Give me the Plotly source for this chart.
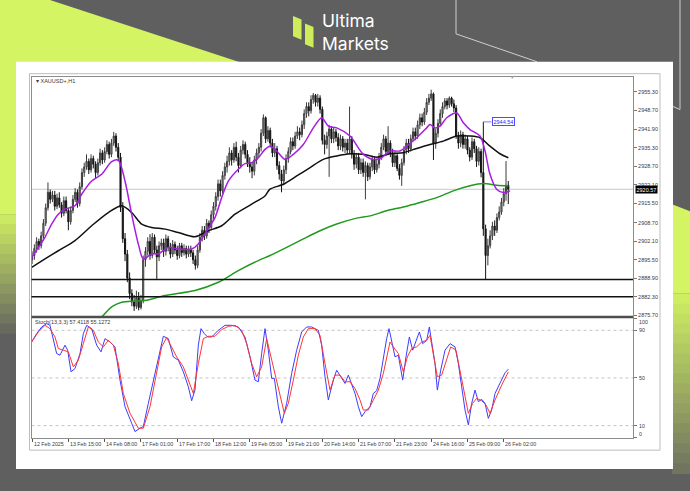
import plotly.graph_objects as go

W, H = 690, 491


def px(x):
    return x / W


def py(y):
    return 1 - y / H


# ---------------- data ----------------
symbol_label = "\u25be XAUUSD+,H1"
stoch_label = "Stoch(13,3,3) 57.4118 55.1272"

tick_idx = [0, 16, 32, 48, 64, 80, 96, 112, 128, 144, 160, 176, 192, 208]
tick_labels = ["12 Feb 2025", "13 Feb 15:00", "14 Feb 08:00", "17 Feb 01:00", "17 Feb 17:00",
               "18 Feb 12:00", "19 Feb 05:00", "19 Feb 21:00", "20 Feb 14:00", "21 Feb 07:00",
               "21 Feb 23:00", "24 Feb 16:00", "25 Feb 09:00", "26 Feb 02:00"]

price_ticks = [2955.30, 2948.70, 2941.90, 2935.30, 2928.70, 2922.10, 2915.50,
               2908.70, 2902.10, 2895.50, 2888.90, 2882.30, 2875.70]
stoch_ticks = [100, 90, 50, 10, 0]
stoch_levels = [90, 50, 10]

support_levels = [2888.5, 2882.3]
last_price = 2920.57
marked_high = 2944.54
marked_high_bar = 199

bar_index = list(range(211))

open_ = [
    2895.5, 2897.0, 2899.5, 2902.0, 2900.5, 2904.0, 2908.5, 2914.0, 2919.5, 2917.0,
    2918.5, 2914.5, 2917.5, 2915.0, 2912.0, 2916.5, 2913.0, 2909.0, 2913.0, 2917.0,
    2919.5, 2915.5, 2921.5, 2926.5, 2928.5, 2930.5, 2927.5, 2931.5, 2929.5, 2926.5,
    2930.0, 2933.5, 2931.0, 2934.0, 2936.5, 2933.0, 2937.0, 2939.5, 2935.5, 2932.0,
    2914.0, 2903.0, 2897.5, 2889.0, 2883.5, 2880.5, 2879.0, 2882.0, 2878.5, 2881.0,
    2895.5, 2898.5, 2902.0, 2897.0, 2903.5, 2899.0, 2896.5, 2900.5, 2901.5, 2898.5,
    2903.0, 2900.0, 2897.5, 2901.0, 2899.0, 2897.0, 2900.5, 2898.0, 2899.5, 2897.5,
    2899.0, 2898.0, 2895.5, 2893.5, 2899.0, 2903.5, 2906.0, 2904.0, 2908.5, 2907.0,
    2911.5, 2914.5, 2918.0, 2922.5, 2920.0, 2925.5, 2928.5, 2930.5, 2933.5, 2931.0,
    2935.5, 2932.0, 2929.0, 2934.5, 2936.5, 2933.0, 2930.0, 2928.5, 2927.0, 2931.0,
    2933.5, 2935.5, 2940.5, 2946.0, 2938.5, 2941.5, 2937.0, 2933.5, 2935.0, 2929.0,
    2926.0, 2923.5, 2927.5, 2931.5, 2934.0, 2937.5, 2936.0, 2939.5, 2941.0, 2940.0,
    2943.5, 2947.5, 2950.0, 2948.5, 2952.5, 2954.0, 2951.5, 2953.0, 2949.0, 2938.0,
    2936.5, 2939.5, 2942.0, 2938.5, 2941.0, 2939.0, 2936.0, 2938.5, 2935.5, 2937.0,
    2934.5, 2938.5, 2933.0, 2929.5, 2932.0, 2927.5, 2930.0, 2926.5, 2929.0, 2925.0,
    2928.5, 2931.0, 2927.5, 2929.5, 2932.0, 2935.5, 2938.5, 2934.0, 2937.0, 2933.5,
    2930.0, 2932.5, 2928.0, 2925.5, 2930.0, 2934.5, 2937.0, 2935.0, 2938.5, 2941.0,
    2939.5, 2943.5, 2946.0, 2944.5, 2948.0, 2951.5, 2953.0, 2954.5, 2937.0, 2940.5,
    2944.0, 2947.5, 2950.0, 2952.0, 2950.5, 2953.0, 2951.0, 2949.5, 2939.5, 2937.0,
    2940.0, 2936.5, 2938.5, 2934.5, 2932.0, 2937.5, 2935.0, 2930.5, 2934.0, 2926.5,
    2906.5, 2897.0, 2900.5, 2904.0, 2907.5, 2906.0, 2910.5, 2912.5, 2916.0, 2919.0, 2922.0,
]
high = [
    2898.5, 2901.0, 2903.5, 2903.0, 2905.5, 2910.0, 2915.5, 2923.0, 2920.5, 2920.0,
    2920.0, 2919.0, 2919.5, 2916.0, 2918.0, 2918.0, 2914.0, 2914.5, 2918.5, 2921.0,
    2920.5, 2923.0, 2928.0, 2930.0, 2933.0, 2931.5, 2933.0, 2932.5, 2930.5, 2931.5,
    2935.0, 2934.5, 2935.5, 2938.0, 2937.5, 2938.5, 2941.0, 2940.5, 2937.0, 2933.5,
    2916.0, 2905.0, 2899.0, 2891.0, 2885.0, 2883.0, 2884.5, 2884.0, 2883.0, 2897.0,
    2900.0, 2903.5, 2904.6, 2905.0, 2904.5, 2900.5, 2902.0, 2903.0, 2903.0, 2904.5,
    2904.0, 2901.5, 2902.5, 2902.0, 2900.5, 2901.5, 2901.5, 2901.0, 2900.5, 2900.5,
    2900.5, 2899.0, 2897.0, 2900.5, 2905.0, 2907.5, 2907.5, 2910.0, 2909.5, 2913.0,
    2916.0, 2919.5, 2924.0, 2924.0, 2927.0, 2930.0, 2932.5, 2935.5, 2934.5, 2937.0,
    2937.5, 2933.5, 2936.0, 2938.0, 2937.5, 2934.5, 2932.0, 2930.0, 2932.5, 2935.0,
    2937.0, 2942.0, 2947.2, 2946.5, 2943.0, 2942.5, 2938.5, 2937.0, 2936.0, 2930.5,
    2927.5, 2929.0, 2933.0, 2935.5, 2939.0, 2939.0, 2941.0, 2943.0, 2942.5, 2945.0,
    2949.0, 2951.5, 2951.5, 2954.0, 2954.8, 2954.5, 2954.5, 2954.0, 2950.0, 2940.0,
    2941.0, 2943.5, 2943.0, 2942.5, 2942.0, 2940.5, 2940.0, 2939.5, 2938.5, 2938.5,
    2950.0, 2939.5, 2934.5, 2933.5, 2933.5, 2931.5, 2931.5, 2930.5, 2930.0, 2930.0,
    2932.5, 2932.0, 2931.0, 2933.5, 2937.0, 2940.0, 2939.5, 2943.0, 2938.0, 2935.0,
    2934.0, 2933.5, 2929.5, 2931.5, 2936.0, 2938.5, 2938.5, 2940.0, 2942.5, 2942.5,
    2945.0, 2947.5, 2947.5, 2949.5, 2953.0, 2954.5, 2956.0, 2955.0, 2942.0, 2945.5,
    2949.0, 2951.5, 2953.0, 2953.0, 2953.6, 2953.5, 2952.5, 2950.5, 2941.0, 2941.5,
    2941.0, 2940.0, 2939.5, 2935.5, 2939.0, 2938.5, 2936.0, 2935.5, 2935.0, 2944.54,
    2908.0, 2903.0, 2906.0, 2909.0, 2909.5, 2912.0, 2914.5, 2917.5, 2921.0, 2930.6, 2923.5,
]
low = [
    2894.0, 2895.5, 2898.0, 2899.0, 2899.5, 2903.0, 2907.5, 2913.0, 2915.5, 2916.0,
    2913.0, 2913.5, 2914.0, 2910.5, 2911.0, 2912.0, 2906.0, 2908.0, 2912.0, 2916.0,
    2914.0, 2914.5, 2920.5, 2925.0, 2927.5, 2926.0, 2926.5, 2928.0, 2924.5, 2925.5,
    2929.0, 2929.5, 2930.0, 2933.0, 2931.5, 2932.0, 2936.0, 2934.0, 2930.5, 2912.5,
    2901.5, 2895.0, 2887.5, 2881.5, 2879.0, 2877.3, 2878.0, 2877.5, 2877.8, 2880.0,
    2893.0, 2897.0, 2895.5, 2896.0, 2897.5, 2888.7, 2895.0, 2899.0, 2896.5, 2897.0,
    2898.5, 2896.0, 2896.5, 2897.5, 2895.5, 2896.0, 2896.5, 2897.0, 2896.0, 2896.5,
    2896.5, 2894.0, 2892.0, 2892.5, 2898.0, 2902.0, 2902.5, 2903.0, 2905.0, 2906.0,
    2910.0, 2913.0, 2916.5, 2918.0, 2919.0, 2924.0, 2926.5, 2929.0, 2929.0, 2930.0,
    2930.5, 2926.5, 2928.0, 2933.0, 2931.5, 2928.5, 2926.5, 2924.5, 2925.5, 2929.5,
    2932.0, 2934.0, 2939.5, 2937.0, 2937.5, 2935.5, 2932.0, 2932.0, 2927.5, 2924.0,
    2919.5, 2922.0, 2926.0, 2930.0, 2933.0, 2934.5, 2935.0, 2938.5, 2938.0, 2939.0,
    2942.0, 2946.0, 2946.5, 2947.5, 2951.0, 2950.0, 2950.0, 2947.5, 2936.5, 2933.0,
    2935.0, 2925.0, 2937.0, 2937.0, 2937.5, 2934.5, 2934.5, 2934.0, 2933.5, 2933.0,
    2933.0, 2931.5, 2927.5, 2928.0, 2926.0, 2926.0, 2925.0, 2917.0, 2923.5, 2924.0,
    2927.0, 2926.0, 2926.5, 2928.0, 2931.0, 2934.5, 2932.5, 2933.0, 2932.0, 2928.5,
    2928.5, 2927.0, 2924.0, 2921.8, 2929.0, 2933.0, 2933.5, 2934.0, 2937.5, 2938.0,
    2938.5, 2942.0, 2943.0, 2943.5, 2947.0, 2950.5, 2952.0, 2931.0, 2935.0, 2939.0,
    2943.0, 2946.0, 2949.0, 2949.0, 2949.5, 2950.0, 2948.0, 2938.5, 2935.0, 2935.5,
    2935.0, 2935.0, 2933.0, 2930.5, 2931.0, 2933.5, 2928.5, 2929.0, 2924.8, 2904.0,
    2888.5, 2893.5, 2899.5, 2902.5, 2904.0, 2905.0, 2909.5, 2911.5, 2914.5, 2916.5, 2915.3,
]
close = [
    2897.0, 2899.5, 2902.0, 2900.5, 2904.0, 2908.5, 2914.0, 2919.5, 2917.0, 2918.5,
    2914.5, 2917.5, 2915.0, 2912.0, 2916.5, 2913.0, 2909.0, 2913.0, 2917.0, 2919.5,
    2915.5, 2921.5, 2926.5, 2928.5, 2930.5, 2927.5, 2931.5, 2929.5, 2926.5, 2930.0,
    2933.5, 2931.0, 2934.0, 2936.5, 2933.0, 2937.0, 2939.5, 2935.5, 2932.0, 2914.0,
    2903.0, 2897.5, 2889.0, 2883.5, 2880.5, 2879.0, 2882.0, 2878.5, 2881.0, 2895.5,
    2898.5, 2902.0, 2897.0, 2903.5, 2899.0, 2896.5, 2900.5, 2901.5, 2898.5, 2903.0,
    2900.0, 2897.5, 2901.0, 2899.0, 2897.0, 2900.5, 2898.0, 2899.5, 2897.5, 2899.0,
    2898.0, 2895.5, 2893.5, 2899.0, 2903.5, 2906.0, 2904.0, 2908.5, 2907.0, 2911.5,
    2914.5, 2918.0, 2922.5, 2920.0, 2925.5, 2928.5, 2930.5, 2933.5, 2931.0, 2935.5,
    2932.0, 2929.0, 2934.5, 2936.5, 2933.0, 2930.0, 2928.5, 2927.0, 2931.0, 2933.5,
    2935.5, 2940.5, 2946.0, 2938.5, 2941.5, 2937.0, 2933.5, 2935.0, 2929.0, 2926.0,
    2923.5, 2927.5, 2931.5, 2934.0, 2937.5, 2936.0, 2939.5, 2941.0, 2940.0, 2943.5,
    2947.5, 2950.0, 2948.5, 2952.5, 2954.0, 2951.5, 2953.0, 2949.0, 2938.0, 2936.5,
    2939.5, 2942.0, 2938.5, 2941.0, 2939.0, 2936.0, 2938.5, 2935.5, 2937.0, 2934.5,
    2938.5, 2933.0, 2929.5, 2932.0, 2927.5, 2930.0, 2926.5, 2929.0, 2925.0, 2928.5,
    2931.0, 2927.5, 2929.5, 2932.0, 2935.5, 2938.5, 2934.0, 2937.0, 2933.5, 2930.0,
    2932.5, 2928.0, 2925.5, 2930.0, 2934.5, 2937.0, 2935.0, 2938.5, 2941.0, 2939.5,
    2943.5, 2946.0, 2944.5, 2948.0, 2951.5, 2953.0, 2954.5, 2937.0, 2940.5, 2944.0,
    2947.5, 2950.0, 2952.0, 2950.5, 2953.0, 2951.0, 2949.5, 2939.5, 2937.0, 2940.0,
    2936.5, 2938.5, 2934.5, 2932.0, 2937.5, 2935.0, 2930.5, 2934.0, 2926.5, 2906.5,
    2897.0, 2900.5, 2904.0, 2907.5, 2906.0, 2910.5, 2912.5, 2916.0, 2919.0, 2922.0, 2920.57,
]

# moving averages
fast_ma_x = [-0.19, 2.75, 5.69, 8.63, 11.57, 14.51, 18.92, 21.86, 26.27, 30.68, 35.09, 38.03,
             40.97, 43.91, 46.85, 49.06, 52.73, 55.67, 60.08, 64.49, 70.37, 73.31, 76.99, 80.66,
             83.6, 86.54, 90.95, 93.89, 96.83, 99.77, 102.71, 104.92, 107.86, 111.54, 115.21,
             119.62, 124.03, 127.71, 130.65, 134.32, 140.2, 146.08, 150.49, 154.17, 157.84,
             162.25, 165.19, 169.6, 174.01, 175.48, 177.69, 179.89, 182.83, 187.24, 190.18,
             193.12, 197.53, 199.74, 201.94, 204.88, 207.82, 210.76]
fast_ma_y = [2896.4, 2899.9, 2903.5, 2908.2, 2911.7, 2913.5, 2914.7, 2918.8, 2923.5, 2925.9,
             2930.4, 2930.9, 2923.5, 2911.7, 2901.1, 2895.8, 2897.6, 2897.6, 2899.9, 2899.3,
             2899.3, 2901.1, 2905.8, 2910.5, 2917.6, 2923.5, 2927.7, 2929.7, 2930.0, 2931.8,
             2934.75, 2935.9, 2934.2, 2931.2, 2933.0, 2936.5, 2942.4, 2946.0, 2943.0, 2942.4,
             2939.5, 2933.0, 2931.2, 2931.8, 2934.2, 2934.2, 2935.9, 2938.9, 2942.4, 2943.6,
             2942.4, 2943.0, 2946.0, 2947.7, 2944.2, 2941.8, 2939.5, 2934.2, 2925.9, 2920.6,
             2919.4, 2920.0]

mid_ma_x = [-0.19, 5.69, 11.57, 18.92, 26.27, 33.62, 39.5, 43.91, 48.32, 52.73, 58.61, 64.49,
            71.84, 77.72, 83.6, 89.48, 96.83, 102.71, 104.92, 110.8, 116.7, 122.6, 128.44,
            134.32, 140.2, 146.08, 151.96, 157.84, 163.7, 169.6, 175.48, 181.36, 187.24,
            193.12, 197.53, 201.94, 206.35, 210.03]
mid_ma_y = [2892.8, 2895.8, 2898.7, 2902.3, 2907.6, 2912.3, 2914.7, 2912.3, 2908.2, 2907.0,
            2906.4, 2905.2, 2903.7, 2905.8, 2907.6, 2911.7, 2915.3, 2918.2, 2920.6, 2922.35,
            2925.3, 2928.3, 2931.2, 2932.4, 2933.2, 2933.0, 2932.0, 2933.2, 2933.6, 2935.1,
            2936.5, 2937.7, 2939.5, 2939.5, 2938.9, 2935.9, 2933.2, 2931.8]

slow_ma_x = [26.27, 30.68, 35.09, 39.5, 45.38, 49.79, 58.61, 71.84, 82.13, 90.95, 99.77,
             104.92, 112.27, 119.62, 126.97, 134.32, 143.14, 149.02, 156.37, 163.72, 171.07,
             178.42, 185.77, 193.12, 199.0, 204.88, 210.03]
slow_ma_y = [2871.6, 2875.1, 2878.7, 2880.4, 2880.8, 2881.0, 2882.8, 2884.6, 2887.5, 2891.65,
             2895.2, 2897.0, 2899.9, 2902.9, 2905.8, 2908.2, 2910.3, 2911.1, 2912.9, 2914.3,
             2915.9, 2917.6, 2920.0, 2921.8, 2922.6, 2922.0, 2921.8]

# stochastic
stoch_k_x = [-0.19, 2.01, 4.22, 6.42, 7.89, 9.36, 10.83, 12.30, 14.51, 15.69,
             17.16, 18.92, 21.13, 22.6, 24.07, 26.27, 28.48, 30.39, 32.15, 34.36,
             36.56, 38.77, 40.97, 43.91, 45.38, 47.59, 49.06, 51.26, 53.47, 55.67,
             57.88, 60.08, 62.29, 64.49, 66.70, 68.9, 70.37, 71.84, 73.31, 74.49,
             75.96, 77.43, 79.19, 82.13, 85.07, 88.01, 90.95, 93.89, 96.1, 98.3,
             99.77, 101.24, 102.71, 104.18, 105.65, 106.83, 108.59, 110.06, 112.27, 114.47,
             116.68, 118.88, 121.09, 123.29, 126.23, 127.7, 129.17, 130.64, 132.85, 134.32,
             136.52, 138.0, 139.47, 140.94, 142.41, 143.88, 145.35, 146.82, 149.02, 150.49,
             151.96, 153.43, 154.9, 156.37, 157.4, 158.58, 160.05, 161.52, 163.43, 164.9,
             166.37, 167.84, 169.31, 170.78, 172.25, 174.01, 175.19, 176.22, 177.69, 178.72,
             180.19, 182.1, 184.3, 186.51, 187.98, 189.45, 190.92, 192.39, 193.86, 195.33,
             196.8, 198.27, 199.74, 201.21, 202.68, 204.15, 206.35, 208.56, 210.03]
stoch_k_y = [80.2, 87.2, 92.8, 95.6, 94.2, 81.6, 70.5, 69.1, 77.5, 73.3,
             55.2, 57.9, 70.5, 87.2, 94.2, 91.4, 77.5, 71.9, 83.0, 80.2,
             76.1, 48.2, 25.9, 12.0, 5.0, 7.8, 9.2, 28.7, 48.2, 67.7,
             85.0, 83.0, 67.7, 64.9, 55.2, 42.6, 30.9, 39.8, 77.5, 91.4,
             87.2, 84.4, 84.4, 90.0, 94.2, 94.2, 92.8, 84.4, 67.7, 48.2,
             46.8, 70.5, 91.4, 73.3, 49.6, 49.6, 25.9, 12.0, 28.7, 53.8,
             73.3, 88.6, 92.8, 92.8, 90.0, 77.5, 51.0, 31.5, 48.2, 56.5,
             49.6, 45.4, 52.4, 45.4, 37.0, 25.9, 17.5, 21.7, 25.9, 37.0,
             39.3, 49.6, 67.7, 83.0, 91.4, 81.6, 67.7, 69.1, 48.2, 67.7,
             84.4, 73.3, 81.6, 88.6, 78.8, 81.6, 92.8, 81.6, 62.1, 39.8,
             56.5, 73.3, 78.8, 76.1, 62.1, 42.6, 23.1, 10.6, 28.7, 39.8,
             30.1, 32.0, 28.7, 16.1, 23.1, 37.0, 45.4, 54.3, 57.4]
stoch_d_x = [-0.19, 2.75, 5.69, 7.89, 10.1, 11.57, 13.77, 15.98, 18.19, 20.39,
             22.6, 24.8, 27.0, 29.21, 31.42, 33.62, 35.83, 38.03, 40.24, 43.18,
             46.85, 49.06, 52.0, 54.94, 57.14, 59.35, 61.55, 63.76, 66.70, 68.9,
             71.11, 73.31, 75.52, 77.72, 80.66, 83.6, 86.54, 89.48, 92.42, 94.63,
             96.83, 99.04, 101.24, 103.45, 104.92, 107.12, 109.33, 111.24, 113.0, 115.21,
             117.41, 119.62, 121.82, 124.76, 126.97, 129.17, 131.38, 133.58, 135.79, 138.0,
             140.2, 142.41, 144.61, 146.08, 148.29, 150.49, 152.7, 154.9, 156.37, 157.84,
             159.31, 161.52, 163.72, 165.49, 167.4, 169.6, 171.81, 174.01, 175.48, 176.95,
             178.72, 180.63, 182.83, 184.6, 186.95, 188.71, 190.48, 192.39, 194.3, 196.06,
             198.27, 200.18, 201.94, 204.15, 207.09, 210.03]
stoch_d_y = [80.2, 88.6, 94.2, 91.4, 84.4, 74.7, 73.3, 71.9, 59.3, 64.9,
             78.8, 92.8, 90.0, 80.2, 76.1, 81.6, 77.5, 62.1, 37.0, 20.3,
             7.8, 7.8, 25.9, 53.8, 76.1, 83.9, 76.1, 67.7, 59.3, 48.2,
             37.0, 62.1, 83.0, 85.0, 85.0, 90.6, 93.3, 94.2, 90.0, 78.8,
             62.1, 51.0, 59.3, 83.0, 70.5, 53.8, 35.6, 20.3, 28.7, 48.2,
             69.1, 84.4, 91.4, 91.4, 85.8, 62.1, 39.8, 52.4, 52.4, 46.8,
             46.8, 41.2, 31.5, 23.1, 23.1, 31.5, 39.8, 53.8, 67.7, 80.2,
             76.1, 70.5, 55.2, 67.7, 74.7, 76.1, 80.2, 81.6, 85.8, 70.5,
             51.0, 52.4, 66.3, 76.1, 73.3, 56.5, 37.0, 20.3, 28.7, 32.9,
             30.9, 27.3, 20.3, 31.5, 44.0, 55.1]

# ---------------- styling ----------------
FONT = "Liberation Sans"
GRAY = "#5f5f5f"
LIME = (212, 244, 99)
GRAY_RGB = (95, 95, 95)
TXT = "#3a3a3a"


def mix(t):
    c = [round(LIME[k] + (GRAY_RGB[k] - LIME[k]) * t) for k in range(3)]
    return f"rgb({c[0]},{c[1]},{c[2]})"


shapes = []


def rect(x0, y0, x1, y1, color, layer="below", line=None):
    shapes.append(dict(type="rect", xref="paper", yref="paper",
                       x0=px(x0), x1=px(x1), y0=py(y1), y1=py(y0),
                       fillcolor=color, line=line or dict(width=0), layer=layer))


def path(points, fill=None, line=None, closed=True, layer="below"):
    d = "M " + " L ".join(f"{px(x):.5f},{py(y):.5f}" for x, y in points)
    if closed:
        d += " Z"
    shapes.append(dict(type="path", xref="paper", yref="paper", path=d,
                       fillcolor=fill if fill else "rgba(0,0,0,0)",
                       line=line or dict(width=0), layer=layer))


# decorative background
path([(0, 0), (50, 0), (240, 62.5), (240, 70), (0, 70)], fill=mix(0))
rect(0, 62, 17, 215, mix(0))
n = 13
for k in range(n):
    rect(0, 215 + k * 10, 17, 226 + k * 10, mix((k + 1) / n))
path([(672, 205), (690, 212), (690, 295), (672, 295)], fill=mix(0))
n = 18
for k in range(n):
    rect(672, 295 + k * 10, 690, 306 + k * 10, mix(0.85 * (k + 1) / n))
path([(456, -2), (456, 34), (537, 62)], line=dict(color="#cfcfcf", width=1), closed=False)
path([(680, -2), (680, 110), (671, 106)], line=dict(color="#cfcfcf", width=1), closed=False)

# logo icon
path([(293, 16), (301.5, 19.5), (301.5, 40), (293, 36.5)], fill="#cdee5a")
path([(305, 23.5), (313.5, 27), (313.5, 48), (305, 44.5)], fill="#cdee5a")

# white panel and terminal frame
rect(16, 62, 673, 471, "#ffffff")
rect(29.5, 74, 660, 452, "rgba(0,0,0,0)", line=dict(color="#bdbdbd", width=1))

# chart overlays
for lv in support_levels:
    shapes.append(dict(type="line", xref="x domain", yref="y", x0=0, x1=1, y0=lv, y1=lv,
                       line=dict(color="#111111", width=1.5), layer="above"))
shapes.append(dict(type="line", xref="x domain", yref="y", x0=0, x1=1, y0=last_price, y1=last_price,
                   line=dict(color="#c8c8c8", width=1), layer="below"))
for lv in stoch_levels:
    shapes.append(dict(type="line", xref="x2 domain", yref="y2", x0=0, x1=1, y0=lv, y1=lv,
                       line=dict(color="#c4c4c4", width=1, dash="dot"), layer="below"))
shapes.append(dict(type="line", xref="x", yref="y", x0=marked_high_bar, x1=marked_high_bar + 3.6,
                   y0=marked_high, y1=marked_high, line=dict(color="#8080c8", width=1), layer="above"))
shapes.append(dict(type="line", xref="paper", yref="paper", x0=px(31.5), x1=px(633),
                   y0=py(318.3), y1=py(318.3), line=dict(color="#4e4e4e", width=2.5), layer="above"))

fig = go.Figure()
fig.add_trace(go.Candlestick(
    x=bar_index, open=open_, high=high, low=low, close=close,
    xaxis="x", yaxis="y", whiskerwidth=0, showlegend=False, hoverinfo="skip",
    increasing=dict(line=dict(color="#3c3c3c", width=1), fillcolor="#a8a8a8"),
    decreasing=dict(line=dict(color="#141414", width=1), fillcolor="#141414"),
))
fig.add_trace(go.Scatter(x=slow_ma_x, y=slow_ma_y, mode="lines", xaxis="x", yaxis="y",
                         line=dict(color="#1f9a1f", width=1.5, shape="spline", smoothing=0.8),
                         hoverinfo="skip", showlegend=False))
fig.add_trace(go.Scatter(x=mid_ma_x, y=mid_ma_y, mode="lines", xaxis="x", yaxis="y",
                         line=dict(color="#111111", width=1.5, shape="spline", smoothing=0.8),
                         hoverinfo="skip", showlegend=False))
fig.add_trace(go.Scatter(x=fast_ma_x, y=fast_ma_y, mode="lines", xaxis="x", yaxis="y",
                         line=dict(color="#a61ee0", width=1.5, shape="spline", smoothing=0.8),
                         hoverinfo="skip", showlegend=False))
fig.add_trace(go.Scatter(x=stoch_k_x, y=stoch_k_y, mode="lines", xaxis="x2", yaxis="y2",
                         line=dict(color="#3c3cff", width=1), hoverinfo="skip", showlegend=False))
fig.add_trace(go.Scatter(x=stoch_d_x, y=stoch_d_y, mode="lines", xaxis="x2", yaxis="y2",
                         line=dict(color="#ff3434", width=1), hoverinfo="skip", showlegend=False))

annotations = [
    dict(text="Ultima", xref="paper", yref="paper", x=px(321), y=py(32.5), xanchor="left",
         yanchor="bottom", showarrow=False, borderpad=0,
         font=dict(family="Inter", size=17.5, color="#ffffff")),
    dict(text="Markets", xref="paper", yref="paper", x=px(321), y=py(32.5), xanchor="left",
         yanchor="top", showarrow=False, borderpad=0,
         font=dict(family="Inter", size=17.5, color="#ffffff")),
    dict(text=symbol_label, xref="paper", yref="paper", x=px(34), y=py(81.5), xanchor="left",
         yanchor="middle", showarrow=False, font=dict(family=FONT, size=5.5, color=TXT)),
    dict(text=stoch_label, xref="paper", yref="paper", x=px(33), y=py(323.5), xanchor="left",
         yanchor="middle", showarrow=False, font=dict(family=FONT, size=5.5, color=TXT)),
    dict(text="\u25bc", xref="paper", yref="paper", x=px(512), y=py(77.5), xanchor="center",
         yanchor="middle", showarrow=False, font=dict(family=FONT, size=4.5, color="#a0a0a0")),
    dict(text=f"{last_price:.2f}", xref="paper", yref="y", x=px(634.5), y=last_price, xanchor="left",
         yanchor="middle", showarrow=False, bgcolor="#000000", borderpad=0.5,
         font=dict(family=FONT, size=5.5, color="#ffffff")),
    dict(text=f"{marked_high:.2f}", xref="x", yref="y", x=marked_high_bar + 3.6, y=marked_high,
         xanchor="left", yanchor="middle", showarrow=False, bgcolor="#ffffff",
         bordercolor="#4a4aff", borderwidth=1, borderpad=0.5,
         font=dict(family=FONT, size=5.5, color="#2a2aff")),
]
for idx, lab in zip(tick_idx, tick_labels):
    annotations.append(dict(text=lab, xref="x2", yref="paper", x=idx, y=py(445.5), xanchor="left",
                            yanchor="middle", showarrow=False, xshift=-0.5,
                            font=dict(family=FONT, size=5.3, color=TXT)))
for v in stoch_ticks:
    shift = -3.5 if v == 100 else (3.5 if v == 0 else 0)
    annotations.append(dict(text=str(v), xref="paper", yref="y2", x=px(637), y=v, yshift=shift,
                            xanchor="left", yanchor="middle", showarrow=False,
                            font=dict(family=FONT, size=5.3, color=TXT)))

x_dom = [px(31.5), px(633)]
x_rng = [-0.26, 265.0]
axis_common = dict(showgrid=False, zeroline=False, showline=True, mirror=True,
                   linecolor="#8c8c8c", linewidth=1, fixedrange=True)

fig.update_layout(
    width=W, height=H, margin=dict(l=0, r=0, t=0, b=0), autosize=False,
    paper_bgcolor=GRAY, plot_bgcolor="rgba(0,0,0,0)", showlegend=False,
    shapes=shapes, annotations=annotations,
    xaxis=dict(domain=x_dom, range=x_rng, anchor="y", showticklabels=False, ticks="",
               rangeslider=dict(visible=False), **axis_common),
    yaxis=dict(domain=[py(317.5), py(77.7)], range=[2875.42, 2960.37], anchor="x", side="right",
               tickvals=price_ticks, ticktext=[f"{v:.2f}" for v in price_ticks],
               ticks="outside", ticklen=3, tickcolor="#777777",
               tickfont=dict(family=FONT, size=5.5, color=TXT), **axis_common),
    xaxis2=dict(domain=x_dom, range=x_rng, anchor="y2", tickvals=tick_idx, ticks="outside",
                ticklen=3, tickcolor="#555555", showticklabels=False, **axis_common),
    yaxis2=dict(domain=[py(439.3), py(319.7)], range=[0, 100], anchor="x2", side="right",
                tickvals=stoch_ticks, ticks="outside", ticklen=3, tickcolor="#777777",
                showticklabels=False, **axis_common),
)

fig.write_html("out.html", config={"displayModeBar": False, "staticPlot": True},
               post_script="document.body.style.margin='0px';document.body.style.overflow='hidden';")
